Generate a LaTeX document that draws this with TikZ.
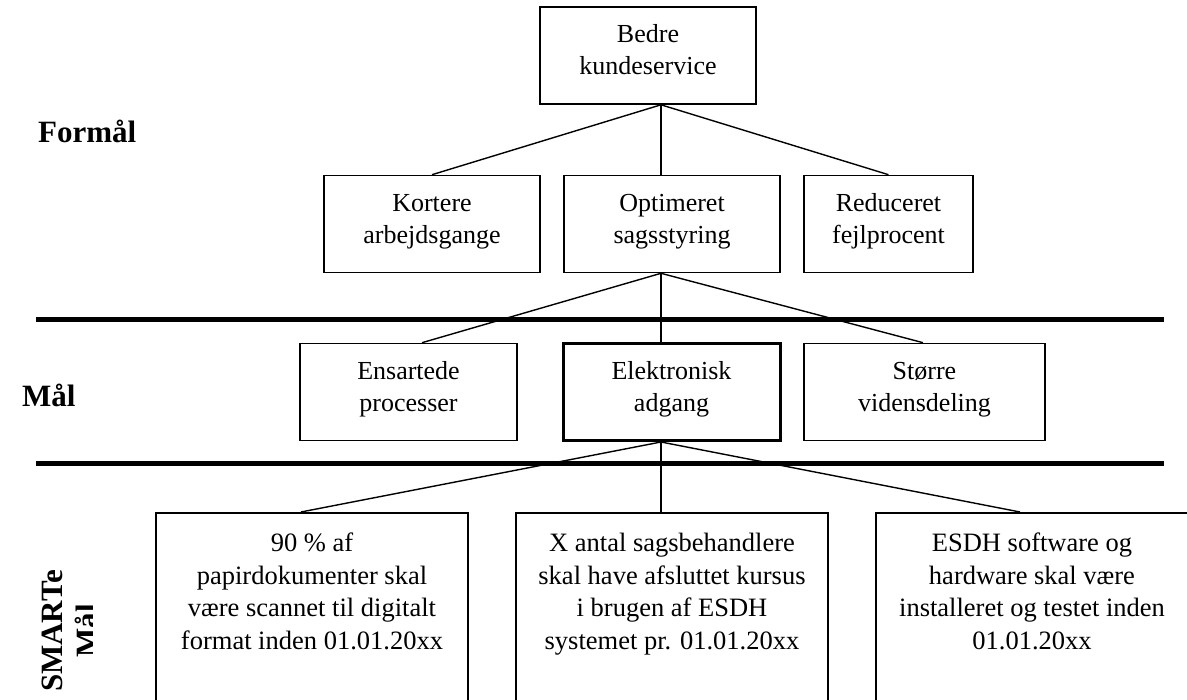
\documentclass[tikz,border=0pt]{standalone}
\usepackage{fontspec}
\setmainfont{Liberation Serif}
\usetikzlibrary{calc}
\newcommand{\twol}[2]{\rule{0pt}{19.4pt}#1\\#2\rule[-12.6pt]{0pt}{12.6pt}}
\begin{document}
\begin{tikzpicture}[x=1pt,y=-1pt,
  box/.style={draw, line width=1.6pt, inner sep=0pt, minimum height=97pt, align=center,
    font=\fontsize{26}{32}\selectfont},
  bigbox/.style={draw, line width=1.6pt, inner sep=0pt, anchor=north, minimum width=312pt, minimum height=260pt},
  btext/.style={anchor=north, inner sep=0pt, align=center, font=\fontsize{26.5}{32.5}\selectfont},
  conn/.style={line width=1.4pt},
  rule/.style={line width=5pt},
  lbl/.style={anchor=base west, inner sep=0pt, font=\fontsize{31}{34}\selectfont\bfseries}]
\useasboundingbox (0,0) rectangle (1187,700);
\clip (0,0) rectangle (1187,700);
% rules
\draw[rule] (36,320) -- (1164,320);
\draw[rule] (36,464) -- (1164,464);
% labels
\node[lbl] (lf) at (38,143) {Formål};
\node[lbl] (lm) at (22,407) {Mål};
\begin{scope}
  \clip (0,540) rectangle (92,700);
  \node[rotate=90, align=center, inner sep=0pt, font=\fontsize{31}{34.5}\selectfont\bfseries] (ls) at (69.75,631) {SMARTe\\Mål};
\end{scope}
% boxes
\node[box, minimum width=216pt] (b) at (648,55.5) {\twol{Bedre}{kundeservice}};
\node[box, minimum width=216pt] (k) at (432,224) {\twol{Kortere}{arbejdsgange}};
\node[box, minimum width=216pt] (o) at (672,224) {\twol{Optimeret}{sagsstyring}};
\node[box, minimum width=169pt] (r) at (888.5,224) {\twol{Reduceret}{fejlprocent}};
\node[box, minimum width=217pt] (e) at (408.5,392) {\twol{Ensartede}{processer}};
\node[box, minimum width=217pt, line width=3pt] (el) at (671.5,392) {\twol{Elektronisk}{adgang}};
\node[box, minimum width=241pt] (st) at (924.5,392) {\twol{Større}{vidensdeling}};
\node[bigbox] (s1) at (312,512) {};
\node[bigbox] (s2) at (672,512) {};
\node[bigbox] (s3) at (1032,512) {};
\node[btext] (s1t) at (312,528.6) {\strut 90 \% af\\papirdokumenter skal\\være scannet til digitalt\\format inden 01.01.20xx\strut};
\node[btext] (s2t) at (672,528.6) {\strut X antal sagsbehandlere\\skal have afsluttet kursus\\i brugen af ESDH\\systemet pr. 01.01.20xx\strut};
\node[btext] (s3t) at (1032,528.6) {\strut ESDH software og\\hardware skal være\\installeret og testet inden\\01.01.20xx\strut};
% connectors
\coordinate (axis) at (661,0);
\draw[conn] (b.south -| axis) -- (k.north);
\draw[conn] (b.south -| axis) -- (o.north -| axis);
\draw[conn] (b.south -| axis) -- (r.north);
\draw[conn] (o.south -| axis) -- ($(e.north)+(13.5,0)$);
\draw[conn] (o.south -| axis) -- (el.north -| axis);
\draw[conn] (o.south -| axis) -- ($(st.north)+(-1.5,0)$);
\draw[conn] (el.south -| axis) -- ($(s1.north)+(-11,0)$);
\draw[conn] (el.south -| axis) -- (s2.north -| axis);
\draw[conn] (el.south -| axis) -- ($(s3.north)+(-12,0)$);
\end{tikzpicture}
\end{document}
